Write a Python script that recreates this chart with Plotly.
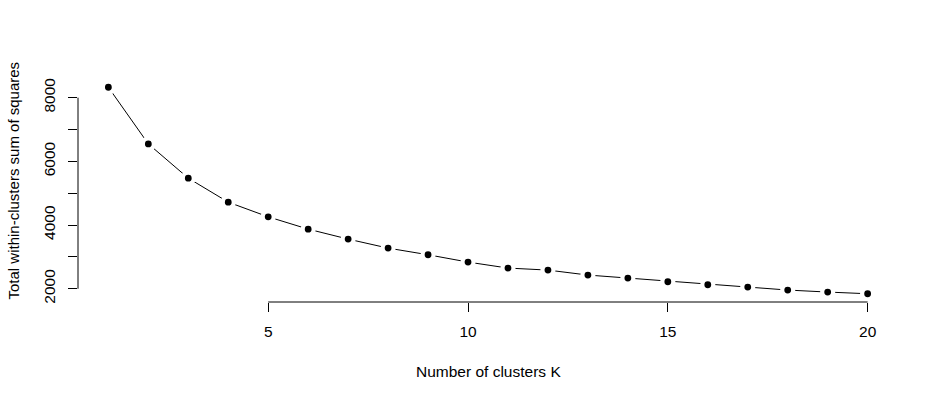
import plotly.graph_objects as go

k_values = list(range(1, 21))
wss = [8327, 6548, 5472, 4719, 4258, 3872, 3559, 3276, 3067, 2837,
       2649, 2586, 2430, 2335, 2220, 2125, 2053, 1959, 1896, 1843]
x_ticks = [5, 10, 15, 20]
y_ticks = [2000, 3000, 4000, 5000, 6000, 7000, 8000]
y_tick_labels = ["2000", "", "4000", "", "6000", "", "8000"]
x_title = "Number of clusters K"
y_title = "Total within-clusters sum of squares"

FONT = "Liberation Sans, Arial, sans-serif"
W, H = 938, 401
ML, MR, MT, MB = 78, 40, 79, 99


def padded(vals, frac=0.04):
    lo, hi = min(vals), max(vals)
    d = (hi - lo) * frac
    return [lo - d, hi + d]


fig = go.Figure()
fig.add_trace(go.Scatter(
    x=k_values, y=wss, mode="lines+markers",
    line=dict(color="black", width=1),
    marker=dict(color="black", size=11, line=dict(color="white", width=4.2)),
    hoverinfo="x+y", showlegend=False,
))

# R-style axis lines spanning only the tick range
fig.add_shape(type="line", xref="x", yref="paper",
              x0=min(x_ticks), x1=max(x_ticks), y0=0, y1=0,
              line=dict(color="black", width=1))
fig.add_shape(type="line", xref="paper", yref="y",
              x0=0, x1=0, y0=min(y_ticks), y1=max(y_ticks),
              line=dict(color="black", width=1))

plot_w = W - ML - MR
plot_h = H - MT - MB

fig.add_annotation(text=x_title, xref="paper", yref="paper",
                   x=0.5, y=(H - MB - 371) / plot_h,
                   xanchor="center", yanchor="middle", showarrow=False,
                   font=dict(family=FONT, size=15.5, color="black"))
fig.add_annotation(text=y_title, xref="paper", yref="paper",
                   x=(13 - ML) / plot_w, y=(H - MB - 180.5) / plot_h,
                   xanchor="center", yanchor="middle", showarrow=False,
                   textangle=-90,
                   font=dict(family=FONT, size=15, color="black"))

fig.update_layout(
    width=W, height=H,
    margin=dict(l=ML, r=MR, t=MT, b=MB, pad=0),
    paper_bgcolor="white", plot_bgcolor="white",
    font=dict(family=FONT, size=15, color="black"),
    xaxis=dict(range=padded(k_values), tickvals=x_ticks,
               ticktext=[str(v) for v in x_ticks],
               showgrid=False, zeroline=False, showline=False,
               ticks="outside", ticklen=9, tickwidth=1, tickcolor="black",
               ticklabelstandoff=6,
               tickfont=dict(family=FONT, size=15.5, color="black")),
    yaxis=dict(range=padded(wss), tickvals=y_ticks, ticktext=y_tick_labels,
               showgrid=False, zeroline=False, showline=False,
               ticks="outside", ticklen=9, tickwidth=1, tickcolor="black",
               tickangle=-90, ticklabelstandoff=7,
               tickfont=dict(family=FONT, size=15.5, color="black")),
)

fig.write_html("out.html", config={"displayModeBar": False},
               post_script="document.body.style.margin='0';")
